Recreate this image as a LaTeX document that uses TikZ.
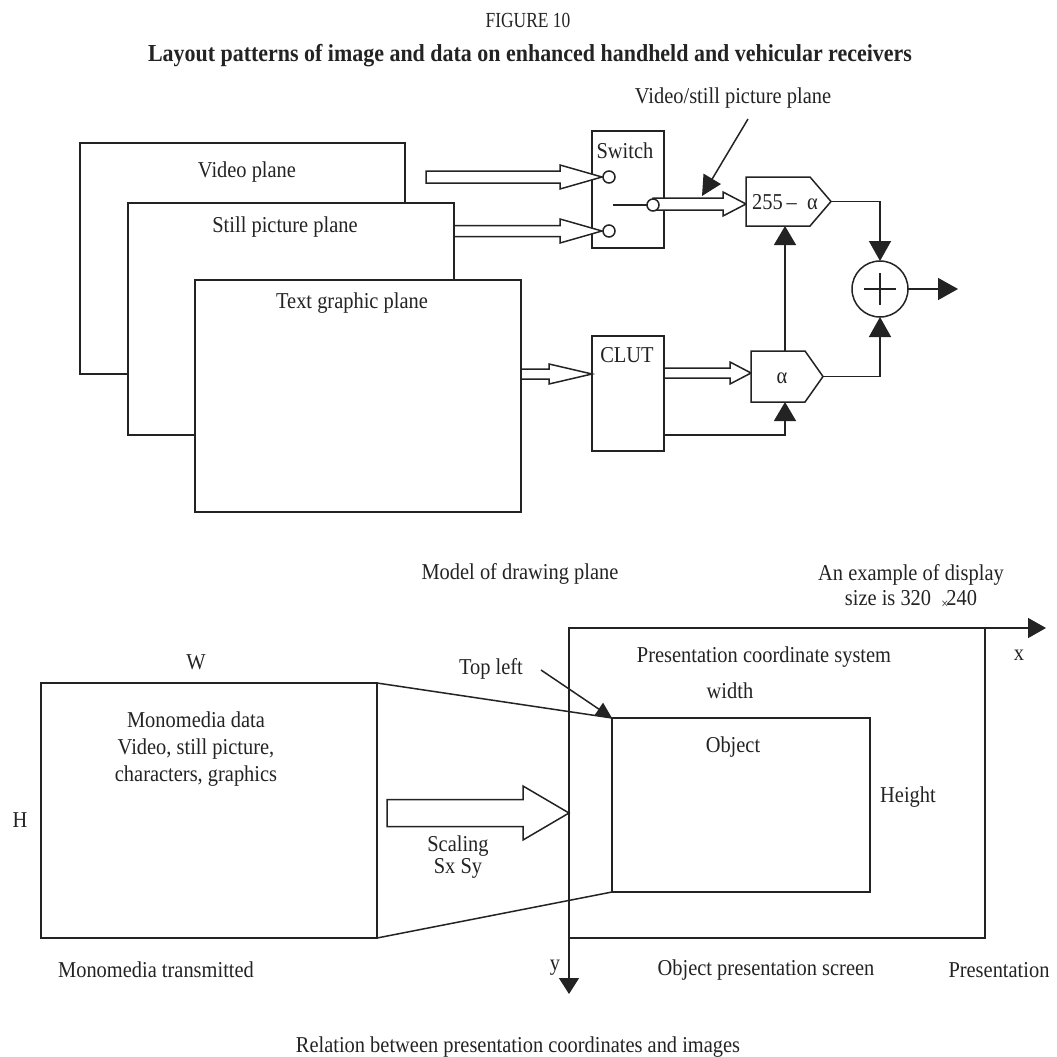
\documentclass[tikz,border=0pt]{standalone}
\usepackage{fontspec}
\setmainfont{Liberation Serif}[FakeStretch=0.9]
\usetikzlibrary{arrows.meta,calc}
\definecolor{ink}{RGB}{35,35,35}
\newcommand\hollowarr[6]{%
  \draw[ink,line width=1.5pt,fill=white,line join=miter] (#1,#4-#5) -- (#2,#4-#5) -- (#2,#4-#6) -- (#3,#4) -- (#2,#4+#6) -- (#2,#4+#5) -- (#1,#4+#5) -- cycle;}
\begin{document}
\begin{tikzpicture}[x=1pt,y=-1pt,line width=1.5pt,
  lbl/.style={font=\fontsize{22.7}{25}\selectfont,text=ink,inner sep=0pt,align=center},
  boxr/.style={draw=ink,fill=white,inner sep=0pt,outer sep=0pt,line width=1.5pt},
  arr/.style={draw=ink,-{Triangle[length=20pt,width=22pt]}},
  ]
\useasboundingbox (0,0) rectangle (1057,1057);

% titles
\node[lbl,font=\fontsize{21.5}{24}\selectfont] (fig) at (528,20) {\scalebox{0.9}[1]{FIGURE 10}};
\node[lbl,font=\fontsize{24.4}{28}\selectfont\bfseries] (title) at (530,56) {Layout patterns of image and data on enhanced handheld and vehicular receivers};

% ---------- top diagram ----------
\node[boxr,minimum width=325,minimum height=231] (video) at (242.5,258.5) {};
\node[boxr,minimum width=326,minimum height=232] (still) at (291,319) {};
\node[boxr,minimum width=326,minimum height=232] (tgp) at (358,396) {};
\node[lbl] (videoL) at (247,172) {Video plane};
\node[lbl] (stillL) at (285,227) {Still picture plane};
\node[lbl] (tgpL) at (352,303) {Text graphic plane};

% switch
\node[boxr,minimum width=72,minimum height=117] (sw) at (628,189.5) {};
\node[lbl] (swL) at (625,151) {Switch};
\hollowarr{426}{560}{602}{177}{6}{12}
\hollowarr{454}{560}{602}{231}{5.5}{12}
\hollowarr{653}{723}{746}{204}{6}{12}
\node[boxr,circle,minimum size=12] (sw1) at (609,177) {};
\node[boxr,circle,minimum size=12] (sw2) at (609,231) {};
\node[boxr,circle,minimum size=12] (swo) at (653,205) {};
\coordinate (swin) at (613,205);
\draw[ink] (swin) -- (swo.west);

% CLUT
\node[boxr,minimum width=72,minimum height=115] (clut) at (628,393.5) {};
\node[lbl] (clutL) at (627,355) {CLUT};
\hollowarr{521}{549}{592}{374}{5}{10}
\hollowarr{664}{730}{751}{373}{5}{11}

% 255 - alpha block
\node[inner sep=0pt,outer sep=0pt,minimum width=64,minimum height=49] (amin) at (778,201.5) {};
\draw[ink,fill=white] (amin.north west) -- (amin.north east) -- ($(amin.east)+(21,0)$) coordinate (aminTip) -- (amin.south east) -- (amin.south west) -- cycle;
\node[lbl] (aminL) at (785,202) {255\,–\ \ α};

% alpha block
\node[inner sep=0pt,outer sep=0pt,minimum width=54,minimum height=51] (al) at (778,376.5) {};
\draw[ink,fill=white] (al.north west) -- (al.north east) -- ($(al.east)+(18,0)$) coordinate (alTip) -- (al.south east) -- (al.south west) -- cycle;
\node[lbl] (alL) at (782,378) {α};

% summing point
\node[boxr,circle,minimum size=56] (sum) at (880,289) {};
\draw[ink] ($(sum.center)+(-16,0)$) -- ($(sum.center)+(16,0)$);
\draw[ink] ($(sum.center)+(0,-16)$) -- ($(sum.center)+(0,16)$);
\coordinate (sumOut) at (958,289);
\draw[arr] (sum.east) -- (sumOut);
\draw[arr] (aminTip) -| (sum.north);
\draw[arr] (alTip) -| (sum.south);

% alpha to 255-alpha
\coordinate (alUp) at ($(al.north)+(7,0)$);
\coordinate (aminIn) at ($(amin.south)+(7,0)$);
\draw[arr,-{Triangle[length=19pt,width=22pt]}] (alUp) -- (aminIn);
\coordinate (clutOut) at ($(clut.south east)+(0,-16)$);
\coordinate (alIn) at ($(al.south)+(7,0)$);
\draw[arr,-{Triangle[length=19pt,width=22pt]}] (clutOut) -| (alIn);

% video/still annotation
\node[lbl] (vsL) at (733,98) {Video/still picture plane};
\coordinate (vsA) at (748,119);
\coordinate (vsB) at (702,196);
\draw[arr,-{Triangle[length=20pt,width=20pt]}] (vsA) -- (vsB);

\node[lbl] (modelL) at (520,574) {Model of drawing plane};
\node[lbl] (exL) at (911,587) {An example of display\\size is 320\ \ \raisebox{-3pt}{\fontsize{14}{14}\selectfont ×}\kern-2pt240};

% ---------- bottom diagram ----------
\node[boxr,minimum width=336,minimum height=255] (mono) at (209,810.5) {};
\node[boxr,minimum width=416,minimum height=310] (pres) at (777,783) {};
\node[boxr,minimum width=258,minimum height=174] (obj) at (741,805) {};
\draw[ink] (mono.north east) -- (obj.north west);
\draw[ink] (mono.south east) -- (obj.south west);
\hollowarr{387}{523}{569}{813}{13.5}{27}

\coordinate (org) at (569,628);
\coordinate (xEnd) at (1046,628);
\coordinate (yEnd) at (569,994);
\draw[arr,-{Triangle[length=18pt,width=20pt]}] (org) -- (xEnd);
\draw[arr,-{Triangle[length=16pt,width=20pt]}] (org) -- (yEnd);

\coordinate (tlA) at (541,670);
\draw[arr,-{Triangle[length=16pt,width=15pt]}] (tlA) -- (obj.north west);

\node[lbl] (wL) at (196,662) {W};
\node[lbl] (hL) at (20,820) {H};
\node[lbl,font=\fontsize{22.7}{27}\selectfont] (monoL) at (196,749) {Monomedia data\\Video, still picture,\\characters, graphics};
\node[lbl,font=\fontsize{22.7}{22}\selectfont] (scL) at (458,857) {Scaling\\Sx Sy};
\node[lbl] (tlL) at (491,669) {Top left};
\node[lbl] (pcsL) at (764,657) {Presentation coordinate system};
\node[lbl] (widthL) at (730,691) {width};
\node[lbl] (objL) at (733,747) {Object};
\node[lbl] (heightL) at (908,797) {Height};
\node[lbl] (xL) at (1019,655) {x};
\node[lbl] (yL) at (555,968) {y};
\node[lbl] (mtL) at (156,970) {Monomedia transmitted};
\node[lbl] (opsL) at (766,970) {Object presentation screen};
\node[lbl] (presL) at (999,970) {Presentation};
\node[lbl] (relL) at (518,1047) {Relation between presentation coordinates and images};
\end{tikzpicture}
\end{document}
